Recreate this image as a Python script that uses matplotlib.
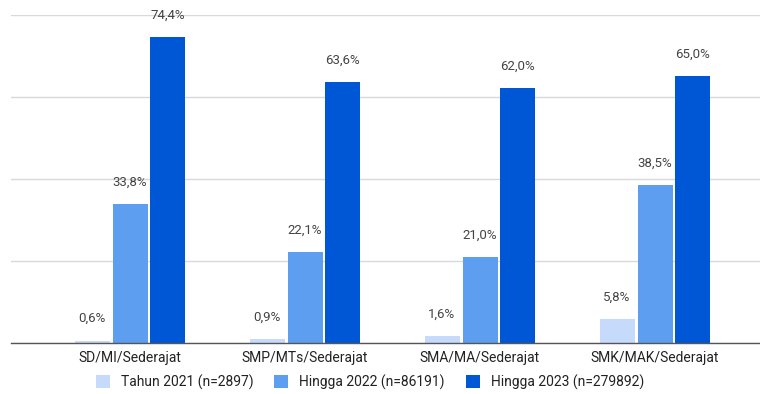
import matplotlib
matplotlib.use('Agg')
import matplotlib.pyplot as plt
import numpy as np

plt.rcParams['font.family'] = ['Roboto', 'DejaVu Sans']

jenjang = ['SD/MI/Sederajat', 'SMP/MTs/Sederajat', 'SMA/MA/Sederajat', 'SMK/MAK/Sederajat']
seri = ['Tahun 2021 (n=2897)', 'Hingga 2022 (n=86191)', 'Hingga 2023 (n=279892)']
tahun_2021 = [0.6, 0.9, 1.6, 5.8]
hingga_2022 = [33.8, 22.1, 21.0, 38.5]
hingga_2023 = [74.4, 63.6, 62.0, 65.0]
warna = ['#c6dafc', '#5e9ef0', '#0057d6']

fig = plt.figure(figsize=(7.6, 3.94), dpi=100)
ax = fig.add_axes([11 / 760, 1 - 343 / 394, 1 - 11 / 760, (343 - 14.5) / 394])

x = np.arange(len(jenjang))
lebar = 0.2
geser = 0.217
for i, (nilai, nama) in enumerate(zip([tahun_2021, hingga_2022, hingga_2023], seri)):
    bars = ax.bar(x + (i - 1) * geser, nilai, lebar, color=warna[i], label=nama, zorder=2)
    for b, v in zip(bars, nilai):
        ax.annotate(f'{v:.1f}%'.replace('.', ','),
                    (b.get_x() + b.get_width() / 2, v),
                    xytext=(0, 11), textcoords='offset points',
                    ha='center', va='bottom', fontsize=9.5, color='#444444')

ax.set_xlim(-0.68, 3.6)
ax.set_ylim(0, 80)
ax.set_yticks([0, 20, 40, 60, 80])
ax.yaxis.grid(True, color='#d9d9d9', linewidth=1, zorder=0)
ax.tick_params(axis='y', left=False, labelleft=False)
ax.tick_params(axis='x', length=0, pad=6, labelsize=10, labelcolor='#222222')
ax.set_xticks(x)
ax.set_xticklabels(jenjang)
for s in ['top', 'right', 'left']:
    ax.spines[s].set_visible(False)
ax.spines['bottom'].set_color('#555555')
ax.spines['bottom'].set_linewidth(1)
ax.spines['bottom'].set_zorder(3)

# legenda di bawah, tiga kolom
fig.legend(loc='center', bbox_to_anchor=(370 / 760, 1 - 382 / 394), ncol=3,
           frameon=False, fontsize=10, handlelength=1.0, handleheight=1.0,
           columnspacing=1.5, handletextpad=0.8, labelcolor='#222222')

fig.savefig('out.png', dpi=100)
